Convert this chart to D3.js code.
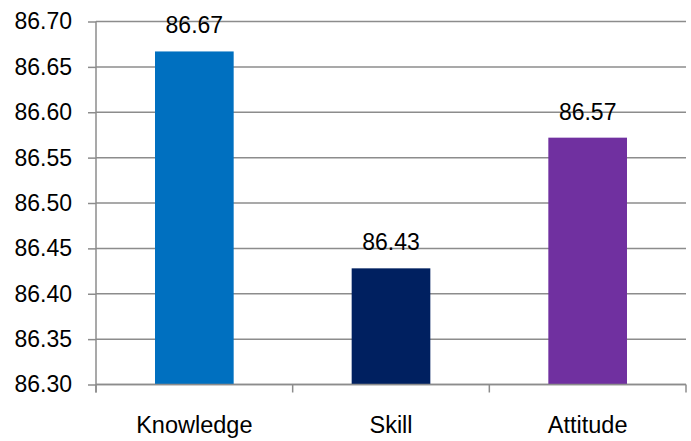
<!DOCTYPE html>
<html>
<head>
<meta charset="utf-8">
<script src="https://cdn.jsdelivr.net/npm/d3@7"></script>
<style>
  html, body { margin: 0; padding: 0; background: #fff; }
  svg { display: block; font-family: "Liberation Sans", Arial, sans-serif; }
</style>
</head>
<body>
<svg id="chart" width="691" height="441"></svg>
<script>
const categories = ["Knowledge", "Skill", "Attitude"];
const values = [86.667, 86.428, 86.572];
const valueLabels = ["86.67", "86.43", "86.57"];
const colors = ["#0070C0", "#002060", "#7030A0"];
const yTicks = [86.30, 86.35, 86.40, 86.45, 86.50, 86.55, 86.60, 86.65, 86.70];

(function () {
const svg = d3.select("#chart");
const mLeft = 96, mRight = 686, mTop = 21.5, mBottom = 384.5;
const fontSize = 23;
const catFontSize = 23.5;

const x = d3.scaleBand().domain(categories).range([mLeft, mRight]).paddingInner(0.6).paddingOuter(0.3);
const band = d3.scaleBand().domain(categories).range([mLeft, mRight]);
const y = d3.scaleLinear().domain([86.30, 86.70]).range([mBottom, mTop]);

// gridlines
svg.append("g").selectAll("line").data(yTicks).join("line")
  .attr("x1", mLeft).attr("x2", mRight)
  .attr("y1", d => y(d)).attr("y2", d => y(d))
  .attr("stroke", "#8c8c8c").attr("stroke-width", 1.5);

// y axis
const yAxis = d3.axisLeft(y).tickValues(yTicks).tickFormat(d3.format(".2f")).tickSize(8).tickPadding(16);
const yg = svg.append("g").attr("transform", `translate(${mLeft},0)`).call(yAxis);
yg.select(".domain").attr("stroke", "#8c8c8c").attr("stroke-width", 1.5).attr("d", `M0,${mTop}V${mBottom + 8}`);
yg.selectAll(".tick line").attr("stroke", "#8c8c8c").attr("stroke-width", 1.5);
yg.selectAll(".tick text").attr("font-size", fontSize).attr("fill", "#000")
  .attr("font-family", "'Liberation Sans', Arial, sans-serif");

// bars
svg.append("g").selectAll("rect").data(categories).join("rect")
  .attr("x", d => x(d)).attr("width", x.bandwidth())
  .attr("y", (d, i) => y(values[i]))
  .attr("height", (d, i) => mBottom - y(values[i]))
  .attr("fill", (d, i) => colors[i]);

// x axis
const xg = svg.append("g").attr("transform", `translate(0,${mBottom})`);
xg.append("line").attr("x1", mLeft).attr("x2", mRight).attr("y1", 0).attr("y2", 0)
  .attr("stroke", "#8c8c8c").attr("stroke-width", 1.5);
const boundaries = categories.map(c => band(c)).concat([mRight]);
xg.selectAll("line.tk").data(boundaries).join("line").attr("class", "tk")
  .attr("x1", d => d).attr("x2", d => d).attr("y1", 0).attr("y2", 8)
  .attr("stroke", "#8c8c8c").attr("stroke-width", 1.5);
xg.selectAll("text").data(categories).join("text")
  .attr("x", d => band(d) + band.bandwidth() / 2)
  .attr("y", 48)
  .attr("text-anchor", "middle")
  .attr("font-size", catFontSize)
  .attr("fill", "#000")
  .text(d => d);

// value labels
svg.append("g").selectAll("text").data(categories).join("text")
  .attr("x", d => x(d) + x.bandwidth() / 2)
  .attr("y", (d, i) => y(values[i]) - 18)
  .attr("text-anchor", "middle")
  .attr("font-size", fontSize)
  .attr("fill", "#000")
  .text((d, i) => valueLabels[i]);
})();
</script>
</body>
</html>
